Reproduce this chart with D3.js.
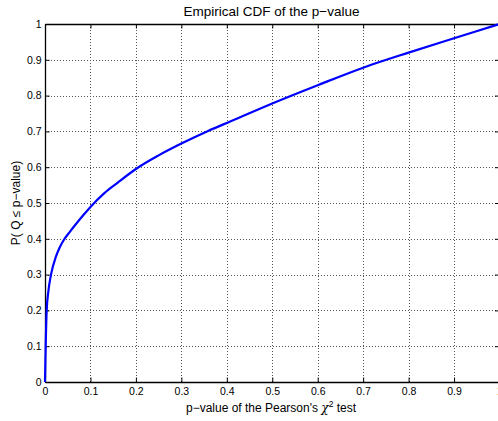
<!DOCTYPE html>
<html>
<head>
<meta charset="utf-8">
<script src="https://cdn.jsdelivr.net/npm/d3@7"></script>
<style>
  html, body { margin: 0; padding: 0; background: #fff; }
  svg { display: block; font-family: "Liberation Sans", Arial, Helvetica, sans-serif; }
</style>
</head>
<body>
<svg id="chart" width="498" height="421"></svg>
<script>
// Data
const pValues = [0, 0.0015, 0.0037, 0.0073, 0.0132, 0.024, 0.032, 0.042, 0.055, 0.07, 0.085, 0.1, 0.13, 0.16, 0.2, 0.25, 0.3, 0.36, 0.41, 0.5, 0.6, 0.7, 0.8, 0.9, 1.0];
const cdfValues = [0, 0.1, 0.2, 0.252, 0.3, 0.35, 0.375, 0.398, 0.42, 0.444, 0.467, 0.489, 0.527, 0.557, 0.595, 0.633, 0.666, 0.702, 0.729, 0.778, 0.829, 0.878, 0.92, 0.96, 1.0];
const xTicks = [0, 0.1, 0.2, 0.3, 0.4, 0.5, 0.6, 0.7, 0.8, 0.9, 1];
const yTicks = [0, 0.1, 0.2, 0.3, 0.4, 0.5, 0.6, 0.7, 0.8, 0.9, 1];
const titleText = "Empirical CDF of the p\u2212value";

const svg = d3.select("#chart");
const mLeft = 45, mTop = 24, plotW = 454.5, plotH = 358;
const x = d3.scaleLinear().domain([0, 1]).range([mLeft, mLeft + plotW]);
const y = d3.scaleLinear().domain([0, 1]).range([mTop + plotH, mTop]);

const fmt = d => (d === 0 || d === 1) ? String(d) : d3.format(".1f")(d);

// grid
const grid = svg.append("g").attr("stroke", "#555").attr("stroke-width", 1).attr("stroke-dasharray", "1,2");
grid.selectAll("line.gx").data(xTicks.slice(1, -1)).join("line")
  .attr("x1", d => Math.round(x(d)) + 0.5).attr("x2", d => Math.round(x(d)) + 0.5)
  .attr("y1", mTop).attr("y2", mTop + plotH);
grid.selectAll("line.gy").data(yTicks.slice(1, -1)).join("line")
  .attr("y1", d => Math.round(y(d)) + 0.5).attr("y2", d => Math.round(y(d)) + 0.5)
  .attr("x1", mLeft).attr("x2", mLeft + plotW);

// axes (ticks inward)
const tickLen = 4.5;
const xAxisB = d3.axisBottom(x).tickValues(xTicks).tickFormat(fmt).tickSizeInner(-tickLen).tickSizeOuter(0).tickPadding(5.5);
const xAxisT = d3.axisTop(x).tickValues(xTicks).tickFormat("").tickSizeInner(-tickLen).tickSizeOuter(0);
const yAxisL = d3.axisLeft(y).tickValues(yTicks).tickFormat(fmt).tickSizeInner(-tickLen).tickSizeOuter(0).tickPadding(3.5);
const yAxisR = d3.axisRight(y).tickValues(yTicks).tickFormat("").tickSizeInner(-tickLen).tickSizeOuter(0);

function style(g) {
  g.selectAll("path.domain").attr("stroke", "#000").attr("stroke-width", 1.3);
  g.selectAll(".tick line").attr("stroke", "#000").attr("stroke-width", 1);
  g.selectAll(".tick text").attr("fill", "#000").attr("font-size", 10.5)
   .attr("font-family", "'Liberation Sans', Arial, sans-serif");
}
svg.append("g").attr("transform", `translate(0,${mTop + plotH})`).call(xAxisB).call(style);
svg.append("g").attr("transform", `translate(0,${mTop})`).call(xAxisT).call(style);
svg.append("g").attr("transform", `translate(${mLeft},0)`).call(yAxisL).call(style);
svg.append("g").attr("transform", `translate(${mLeft + plotW},0)`).call(yAxisR).call(style);

// curve
const pts = pValues.map((p, i) => [p, cdfValues[i]]);
svg.append("path").datum(pts)
  .attr("fill", "none").attr("stroke", "#0000ff").attr("stroke-width", 2.2)
  .attr("stroke-linejoin", "round")
  .attr("d", d3.line().x(d => x(d[0])).y(d => y(d[1])).curve(d3.curveMonotoneX));

// title
svg.append("text").attr("x", 271.5).attr("y", 16).attr("text-anchor", "middle")
  .attr("font-size", 13.5).attr("fill", "#000").text(titleText);

// x label
const xl = svg.append("text").attr("x", 271).attr("y", 412).attr("text-anchor", "middle")
  .attr("font-size", 12).attr("fill", "#000");
xl.append("tspan").text("p\u2212value of the Pearson's ");
xl.append("tspan").attr("font-style", "italic").attr("font-family", "'DejaVu Serif', 'Liberation Serif', serif").text("\u03C7");
xl.append("tspan").attr("font-size", 8.5).attr("dy", -5).text("2");
xl.append("tspan").attr("dy", 5).text(" test");

// y label
svg.append("text").attr("transform", `translate(19.5,${mTop + plotH / 2}) rotate(-90)`)
  .attr("text-anchor", "middle").attr("font-size", 12).attr("fill", "#000")
  .text("P( Q \u2264 p\u2212value)");
</script>
</body>
</html>
